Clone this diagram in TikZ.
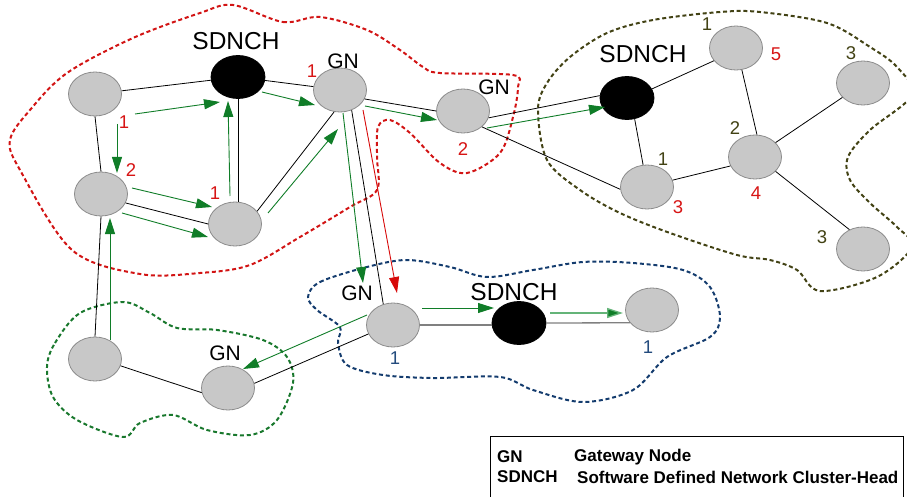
\documentclass[tikz,border=0pt]{standalone}
\usepackage{fontspec}
\setmainfont{Liberation Sans}
\usetikzlibrary{shapes.geometric,arrows.meta,calc}
\definecolor{nodegray}{RGB}{200,200,200}
\definecolor{nodeedge}{RGB}{140,140,140}
\definecolor{arrgreen}{RGB}{16,125,40}
\definecolor{lightgreen}{RGB}{100,180,120}
\definecolor{arrred}{RGB}{215,10,10}
\definecolor{numred}{RGB}{215,20,20}
\definecolor{olive}{RGB}{66,66,20}
\definecolor{clblue}{RGB}{20,60,110}
\definecolor{numblue}{RGB}{35,75,125}
\definecolor{clgreen}{RGB}{25,120,45}
\definecolor{clred}{RGB}{210,20,20}
\begin{document}
\begin{tikzpicture}[x=1pt,y=-1pt,
  nd/.style={ellipse,draw=nodeedge,fill=nodegray,line width=0.8pt,minimum width=53pt,minimum height=44pt,inner sep=0pt},
  hd/.style={ellipse,draw=black,fill=black,line width=0.8pt,minimum width=54pt,minimum height=43pt,inner sep=0pt},
  big/.style={inner sep=0pt,font=\fontsize{24.5}{24.5}\selectfont},
  gnl/.style={inner sep=0pt,font=\fontsize{21}{21}\selectfont},
  num/.style={inner sep=0pt,font=\fontsize{18.5}{18.5}\selectfont},
  link/.style={draw=black,line width=0.8pt},
  glink/.style={draw=gray,line width=1.3pt},
  garr/.style={draw=arrgreen,line width=0.9pt,-{Triangle[length=16pt,width=10pt]}},
  lgarr/.style={draw=lightgreen,line width=1.3pt,-{Triangle[length=16pt,width=10pt,fill=arrgreen]}},
  rarr/.style={draw=arrred,line width=0.9pt,-{Triangle[length=16pt,width=10pt]}},
  cluster/.style={line width=2pt,dash pattern=on 4pt off 2.8pt},
  leg/.style={inner sep=0pt,anchor=west,font=\fontsize{17}{17}\selectfont\bfseries}
]
\useasboundingbox (0,0) rectangle (907,497);
\clip (0,0) rectangle (907,497);

% clusters
\draw[cluster,clred] plot[smooth cycle,tension=0.55] coordinates {
 (233,5) (283,22) (320,17) (367,30) (400,50) (423,67) (440,73) (513,75) (518,87)
 (513,117) (500,153) (467,173) (440,163) (410,133) (390,120) (378,127) (377,157)
 (377,190) (350,207) (300,237) (250,265) (200,273) (140,274) (72,250) (20,170)
 (10,140) (30,110) (67,73) (133,38) (200,13)};
\draw[cluster,olive] plot[smooth cycle,tension=0.55] coordinates {
 (720,12) (653,20) (607,33) (570,57) (547,83) (538,110) (547,160) (580,190) (620,213)
 (670,233) (737,255) (770,260) (797,270) (820,291) (877,277) (912,247) (897,227)
 (870,203) (850,180) (848,157) (870,130) (912,95) (897,67) (870,47) (827,23) (760,12)};
\draw[cluster,clblue] plot[smooth cycle,tension=0.55] coordinates {
 (308,297) (320,282) (367,267) (407,260) (450,267) (487,277) (533,270) (583,262)
 (633,263) (683,270) (710,287) (720,317) (710,337) (667,357) (633,390) (583,402)
 (533,390) (500,377) (433,378) (383,375) (347,365) (338,343) (340,327) (317,310)};
\draw[cluster,clgreen] plot[smooth cycle,tension=0.55] coordinates {
 (47,367) (55,343) (80,313) (123,302) (150,313) (177,328) (217,330) (263,340)
 (287,357) (293,383) (277,420) (250,435) (207,430) (173,415) (140,423) (123,437)
 (77,420) (53,397)};

% nodes
\node[nd] (A) at (95,94) {};
\node[hd] (S1) at (238,77) {};
\node[nd] (G1) at (340,90) {};
\node[nd] (B) at (101,194) {};
\node[nd] (C) at (235,224) {};
\node[nd] (G2) at (463,111) {};
\node[hd] (S2) at (627,98) {};
\node[nd] (T1) at (736,48) {};
\node[nd] (R3a) at (863,83) {};
\node[nd] (M) at (755,157) {};
\node[nd] (N13) at (647,187) {};
\node[nd] (R3b) at (863,249) {};
\node[nd] (D) at (95,359) {};
\node[nd] (G3) at (228,388) {};
\node[nd] (G4) at (393,325) {};
\node[hd] (S3) at (519,323) {};
\node[nd] (E) at (652,310) {};

% black links
\path[link] (A) -- (S1);
\path[link] (A.south) -- (B.north);
\path[link] (S1) -- (G1);
\path[link] (S1.south) -- (S1.south |- C.north);
\path[link] (B.-20) -- (C.west);
\path[link] (C.30) -- (G1.-105);
\path[link] (G1.-20) -- (G2.west);
\path[link] (G1.-60) -- (G4.115);
\path[link] (B.south) -- (D.north);
\path[link] (D.-15) -- (G3.190);
\path[link] (G3.10) -- (G4.-160);
\path[link] (G2.-15) -- (S2.175);
\path[link] (G2.-40) -- (N13.185);
\path[link] (S2.-70) -- (N13.100);
\path[link] (S2.20) -- (T1.-150);
\path[link] (T1.-75) -- (M.85);
\path[link] (N13.15) -- (M.200);
\path[link] (M.35) -- (R3a.-145);
\path[link] (M.-35) -- (R3b.125);
\path[glink] (G4.east) -- (G4.east -| S3.west);
\path[glink] (S3.east) -- (E.-150);

% arrows
\path[garr] ([shift={(40,20)}]A.center) -- ([shift={(-18,25)}]S1.center);
\path[garr] ([shift={(22,30)}]A.center) -- ([shift={(16,-21)}]B.center);
\path[garr] ([shift={(24,15)}]S1.center) -- ([shift={(-25,15)}]G1.center);
\path[garr] ([shift={(25,16)}]G1.center) -- ([shift={(-26,9)}]G2.center);
\path[garr] ([shift={(31,-6)}]B.center) -- ([shift={(-23,-17)}]C.center);
\path[garr] ([shift={(21,19)}]B.center) -- ([shift={(-27,13)}]C.center);
\path[garr] ([shift={(-5,-28)}]C.center) -- ([shift={(-10,24)}]S1.center);
\path[garr] ([shift={(33,-11)}]C.center) -- ([shift={(-2,39)}]G1.center);
\path[garr] ([shift={(24,17)}]G2.center) -- ([shift={(-22,9)}]S2.center);
\path[garr] ([shift={(3,23)}]G1.center) -- ([shift={(-30,-42)}]G4.center);
\path[rarr] ([shift={(23,20)}]G1.center) -- ([shift={(4,-32)}]G4.center);
\path[garr] ([shift={(15,-19)}]D.center) -- ([shift={(9,24)}]B.center);
\path[garr] ([shift={(-26,-10)}]G4.center) -- ([shift={(15,-19)}]G3.center);
\path[garr] ([shift={(29,-17)}]G4.center) -- ([shift={(-25,-15)}]S3.center);
\path[lgarr] ([shift={(31,-10)}]S3.center) -- ([shift={(-29,3)}]E.center);

% labels
\node[big] (lS1) at (236,41) {SDNCH};
\node[big] (lS2) at (643,54) {SDNCH};
\node[big] (lS3) at (514,292) {SDNCH};
\node[gnl] (lG1) at (343,61) {GN};
\node[gnl] (lG2) at (494,87) {GN};
\node[gnl] (lG3) at (225,353) {GN};
\node[gnl] (lG4) at (357,293) {GN};

\node[num,numred] (n1) at (124,122) {1};
\node[num,numred] (n2) at (131,170) {2};
\node[num,numred] (n3) at (215,193) {1};
\node[num,numred] (n4) at (312,71) {1};
\node[num,numred] (n5) at (463,149) {2};
\node[num,numred] (n6) at (776,54) {5};
\node[num,numred] (n7) at (678,207) {3};
\node[num,numred] (n8) at (756,193) {4};
\node[num,olive] (o1) at (707,24) {1};
\node[num,olive] (o2) at (851,53) {3};
\node[num,olive] (o3) at (735,128) {2};
\node[num,olive] (o4) at (663,159) {1};
\node[num,olive] (o5) at (822,237) {3};
\node[num,numblue] (b1) at (395,358) {1};
\node[num,numblue] (b2) at (648,347) {1};

% legend
\draw[black,line width=0.9pt] (490,436) rectangle (903,505);
\node[leg] (k1) at (497,457) {GN};
\node[leg] (v1) at (574,457) {Gateway Node};
\node[leg] (k2) at (497,477) {SDNCH};
\node[leg] (v2) at (577,477) {Software Defined Network Cluster-Head};
\end{tikzpicture}
\end{document}
